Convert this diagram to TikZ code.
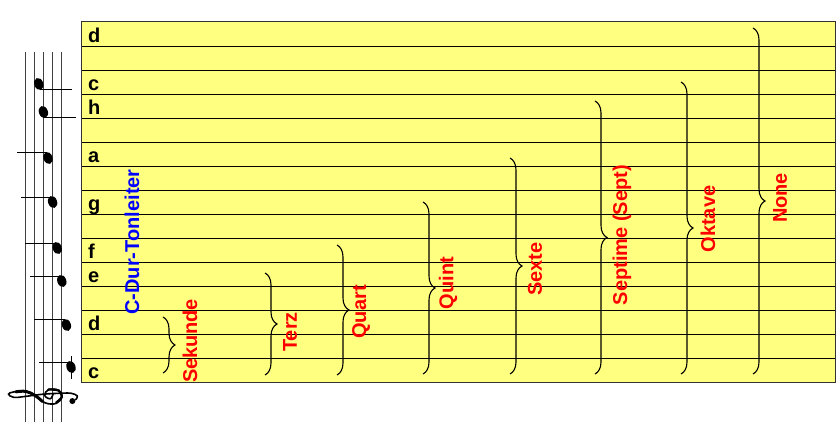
\documentclass[tikz,border=0pt]{standalone}
\usepackage{fontspec}
\setmainfont{Liberation Sans}
\usetikzlibrary{decorations.pathreplacing}
\definecolor{bandyellow}{RGB}{255,255,128}
\definecolor{lblred}{RGB}{255,0,0}
\definecolor{lblblue}{RGB}{0,0,255}
\begin{document}
\begin{tikzpicture}[x=1pt,y=-1pt,
  stemline/.style={draw=black, line width=0.9pt},
  staffline/.style={draw=black!75, line width=0.9pt},
  bandline/.style={draw=black, line width=0.9pt},
  letter/.style={font=\fontsize{20}{24}\selectfont\bfseries, anchor=base west, inner sep=0pt},
  interval/.style={font=\fontsize{20}{24}\selectfont\bfseries, text=lblred, rotate=90, inner sep=0pt, anchor=center},
  bracestyle/.style={draw=black, line width=1.1pt, decorate, decoration={brace, amplitude=12pt}},
]
\useasboundingbox (0,0) rectangle (836,422);
% yellow band table
\fill[bandyellow] (81,22) rectangle (835,382);
\foreach \i in {1,...,14} \draw[bandline] (81,22+24*\i) -- (835,22+24*\i);
\draw[draw=black!80, line width=1pt] (81,22) rectangle (835,382);
% band letters
\node[letter] (n0) at (88,42.5) {d};
\node[letter] (n2) at (88,90.5) {c};
\node[letter] (n3) at (88,114.5) {h};
\node[letter] (n5) at (88,162.5) {a};
\node[letter] (n7) at (88,210.5) {g};
\node[letter] (n9) at (88,258.5) {f};
\node[letter] (n10) at (88,282.5) {e};
\node[letter] (n12) at (88,330.5) {d};
\node[letter] (n14) at (88,378.5) {c};
% staff
\foreach \x in {25,34.2,43.4,52.6,61.8} \draw[staffline] (\x,52) -- (\x,422);
\draw[stemline] (71,356) -- (71,379);
\foreach \x/\y/\sy/\sa/\sb in {71/367/362/39/70, 66.4/325/319/34/65, 61.8/281/276/30/61, 57.2/248/243/25/56.5, 52.6/202/197/21/52, 48/158/152/17/47, 43.4/112/117/43/76, 38.8/84/89/40/72}{
  \draw[stemline] (\sa,\sy) -- (\sb,\sy);
  \fill (\x,\y) ellipse [x radius=4.5pt, y radius=6.2pt, rotate=20];
}
% treble clef (rotated)
\begin{scope}[shift={(61.8,396)}, x={(0pt,9.2pt)}, y={(-9.2pt,0pt)}]
 \draw[line width=1.6pt, line cap=round, line join=round] plot[smooth, tension=0.65] coordinates {(0.2,0.95) (-0.3,1.25) (0.05,1.85) (0.7,1.45) (0.6,0.35) (-0.1,0) (-0.8,0.6) (-0.75,1.8) (0.05,2.9) (0.5,3.9) (0.45,5.2) (0.2,5.8) (-0.15,5.2) (-0.05,4.0) (0.2,2.0) (0.3,0.0) (0.3,-1.0) (0.0,-1.7) (-0.4,-1.5)};
 \draw[line width=3pt, line cap=round] plot[smooth, tension=0.65] coordinates {(-0.6,2.1) (0.05,2.9) (0.5,3.9) (0.45,5.0)};
 \draw[line width=2.4pt, line cap=round] plot[smooth, tension=0.65] coordinates {(0.7,1.45) (0.6,0.35) (-0.1,0) (-0.7,0.6)};
 \fill (-0.55,-1.15) circle (3pt);
\end{scope}
% scale label
\node[interval, text=lblblue] (scale) at (132,242) {C-Dur-Tonleiter};
% braces
\coordinate (b1t) at (163,317); \coordinate (b1b) at (163,373);
\coordinate (b2t) at (265,273); \coordinate (b2b) at (265,375);
\coordinate (b3t) at (337,245); \coordinate (b3b) at (337,375);
\coordinate (b4t) at (423,202); \coordinate (b4b) at (423,374);
\coordinate (b5t) at (510,158); \coordinate (b5b) at (510,374);
\coordinate (b6t) at (595,101); \coordinate (b6b) at (595,374);
\coordinate (b7t) at (681,82);  \coordinate (b7b) at (681,374);
\coordinate (b8t) at (753,28);  \coordinate (b8b) at (753,374);
\foreach \k in {1,...,8} \draw[bracestyle] (b\k t) -- (b\k b);
% interval labels
\node[interval] (l1) at (190,341) {Sekunde};
\node[interval] (l2) at (290,332) {Terz};
\node[interval] (l3) at (361,312) {Quart};
\node[interval] (l4) at (448,283) {Quint};
\node[interval] (l5) at (535,269) {Sexte};
\node[interval] (l6) at (622,235) {Septime (Sept)};
\node[interval] (l7) at (708,219) {Oktave};
\node[interval] (l8) at (780,198) {None};
\end{tikzpicture}
\end{document}
